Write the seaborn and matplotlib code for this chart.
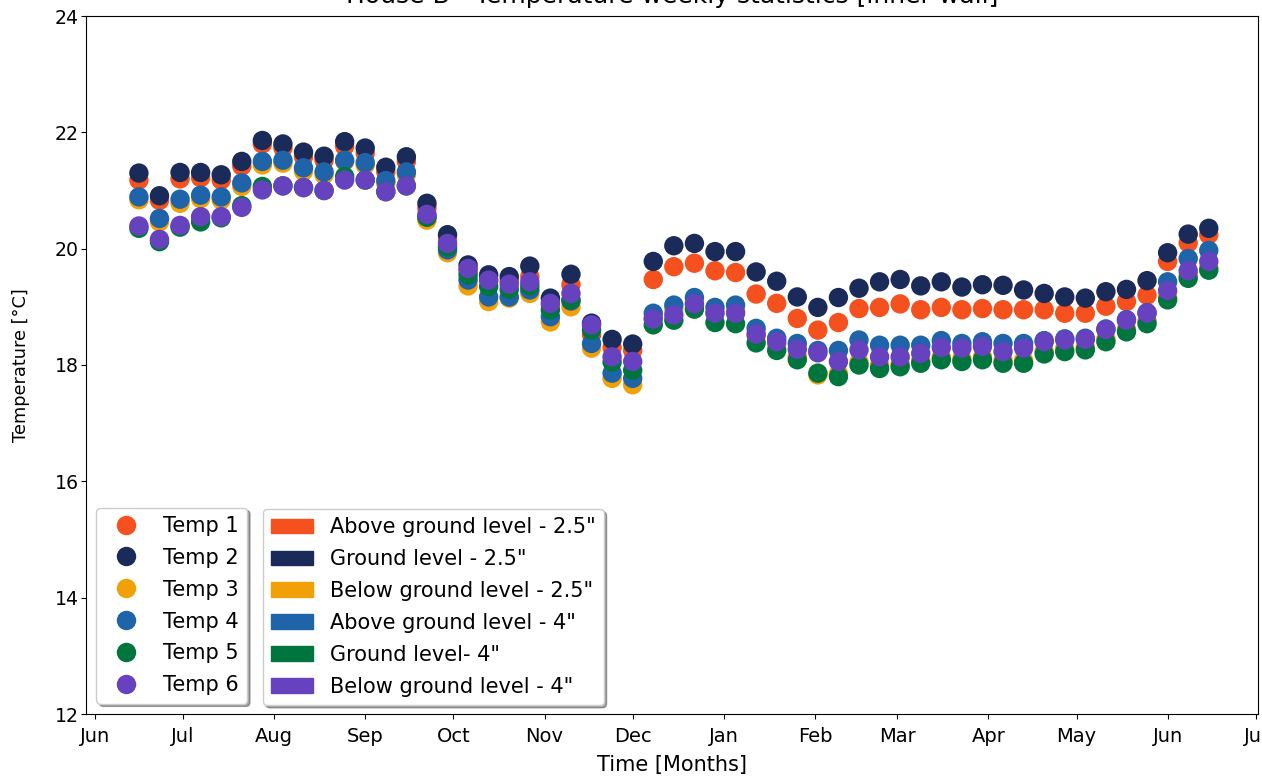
import matplotlib
matplotlib.use("Agg")
import matplotlib.pyplot as plt
import matplotlib.dates as mdates
from matplotlib.lines import Line2D
from matplotlib.patches import Patch
import numpy as np
import pandas as pd
import seaborn as sns

# ---------------- data ----------------
dates = pd.date_range("2021-06-16", periods=53, freq="7D")

temp1 = [21.18, 20.83, 21.20, 21.22, 21.18, 21.42, 21.80, 21.73, 21.58, 21.52, 21.76, 21.64, 21.32, 21.50,
         20.70, 20.15, 19.62, 19.45, 19.45, 19.52, 19.05, 19.38, 18.52, 18.30, 18.25, 19.47, 19.69, 19.75,
         19.62, 19.59, 19.22, 19.06, 18.80, 18.60, 18.73, 18.97, 18.99, 19.05, 18.95, 18.99, 18.95, 18.97,
         18.95, 18.95, 18.95, 18.89, 18.89, 19.01, 19.09, 19.20, 19.78, 20.10, 20.24]
temp2 = [21.30, 20.91, 21.31, 21.31, 21.27, 21.50, 21.86, 21.80, 21.66, 21.59, 21.84, 21.73, 21.40, 21.58,
         20.78, 20.24, 19.72, 19.55, 19.52, 19.70, 19.15, 19.56, 18.72, 18.44, 18.36, 19.78, 20.05, 20.09,
         19.95, 19.95, 19.60, 19.44, 19.17, 18.99, 19.16, 19.32, 19.43, 19.47, 19.36, 19.43, 19.34, 19.38,
         19.37, 19.29, 19.23, 19.17, 19.15, 19.26, 19.30, 19.45, 19.93, 20.25, 20.35]
temp3 = [20.84, 20.46, 20.78, 20.86, 20.84, 21.07, 21.44, 21.47, 21.33, 21.27, 21.50, 21.44, 21.12, 21.27,
         20.49, 19.93, 19.36, 19.09, 19.15, 19.23, 18.74, 19.00, 18.29, 17.77, 17.66, 18.80, 18.95, 19.05,
         18.90, 18.93, 18.50, 18.35, 18.15, 17.83, 17.85, 18.05, 18.00, 18.02, 18.08, 18.14, 18.11, 18.14,
         18.08, 18.08, 18.24, 18.28, 18.31, 18.45, 18.62, 18.76, 19.17, 19.54, 19.68]
temp4 = [20.89, 20.52, 20.85, 20.92, 20.89, 21.13, 21.50, 21.52, 21.39, 21.32, 21.52, 21.48, 21.17, 21.32,
         20.55, 19.98, 19.46, 19.17, 19.17, 19.29, 18.83, 19.10, 18.37, 17.86, 17.77, 18.89, 19.03, 19.16,
         18.99, 19.03, 18.63, 18.46, 18.37, 18.25, 18.25, 18.43, 18.34, 18.34, 18.34, 18.42, 18.37, 18.40,
         18.37, 18.37, 18.42, 18.45, 18.46, 18.62, 18.78, 18.90, 19.43, 19.83, 19.97]
temp5 = [20.35, 20.12, 20.37, 20.46, 20.53, 20.74, 21.07, 21.08, 21.05, 21.00, 21.24, 21.18, 20.98, 21.08,
         20.54, 20.03, 19.55, 19.35, 19.30, 19.36, 18.95, 19.12, 18.60, 18.05, 17.91, 18.69, 18.77, 18.96,
         18.73, 18.71, 18.38, 18.25, 18.09, 17.86, 17.80, 18.00, 17.94, 17.97, 18.03, 18.09, 18.06, 18.09,
         18.03, 18.03, 18.19, 18.23, 18.26, 18.40, 18.57, 18.71, 19.12, 19.49, 19.63]
temp6 = [20.39, 20.16, 20.40, 20.55, 20.55, 20.71, 21.01, 21.08, 21.05, 21.00, 21.18, 21.18, 20.98, 21.08,
         20.59, 20.09, 19.66, 19.46, 19.39, 19.43, 19.06, 19.23, 18.69, 18.14, 18.06, 18.79, 18.86, 19.05,
         18.89, 18.89, 18.53, 18.40, 18.27, 18.21, 18.06, 18.26, 18.14, 18.14, 18.20, 18.30, 18.29, 18.32,
         18.23, 18.29, 18.40, 18.43, 18.44, 18.61, 18.77, 18.89, 19.28, 19.62, 19.78]

series_names = ["Temp 1", "Temp 2", "Temp 3", "Temp 4", "Temp 5", "Temp 6"]
location_labels = ['Above ground level - 2.5"', 'Ground level - 2.5"', 'Below ground level - 2.5"',
                   'Above ground level - 4"', 'Ground level- 4"', 'Below ground level - 4"']
colors = ["#F4511E", "#1A2B5A", "#F2A007", "#1F64A8", "#00763E", "#6642BE"]

all_values = [temp1, temp2, temp3, temp4, temp5, temp6]
df = pd.concat([pd.DataFrame({"Date": dates, "Temperature": v, "Sensor": n})
                for n, v in zip(series_names, all_values)], ignore_index=True)

# ---------------- plot ----------------
plt.rcParams["font.size"] = 11.3
fig = plt.figure(figsize=(12.62, 7.80), dpi=100)
ax = fig.add_axes([86 / 1262, 1 - 714 / 780, (1258 - 86) / 1262, (714 - 16) / 780])

palette = dict(zip(series_names, colors))
sns.scatterplot(data=df, x="Date", y="Temperature", hue="Sensor", palette=palette,
                hue_order=series_names, s=195, linewidth=0, alpha=1, ax=ax, legend=False)

ax.set_ylim(12, 24)
ax.set_yticks(np.arange(12, 25, 2))
ax.set_xlim(pd.Timestamp("2021-05-29"), pd.Timestamp("2022-07-01 18:00"))
ax.xaxis.set_major_locator(mdates.MonthLocator())
ax.xaxis.set_major_formatter(mdates.DateFormatter("%b"))
ax.tick_params(axis="x", labelsize=14, pad=5.5)
ax.tick_params(axis="y", labelsize=13.6, pad=1.5)
ax.set_xlabel("Time [Months]", fontsize=15, labelpad=7)
ax.set_ylabel("Temperature [°C]", fontsize=12.8)
ax.yaxis.set_label_coords((30 - 86) / 1172, 0.5)
ax.set_title("House B - Temperature weekly statistics [inner wall]", fontsize=18, pad=9.5)

h1 = [Line2D([0], [0], marker="o", linestyle="", markersize=14, markerfacecolor=c,
             markeredgewidth=0, color=c) for c in colors]
leg1 = ax.legend(h1, series_names, loc="lower left", fontsize=15, shadow=True,
                 fancybox=True, labelspacing=0.57)
ax.add_artist(leg1)

h2 = [Patch(facecolor=c, edgecolor=c) for c in colors]
leg2 = ax.legend(h2, location_labels, loc="lower left", fontsize=15, shadow=True,
                 fancybox=True, labelspacing=0.57, borderaxespad=0,
                 bbox_to_anchor=((263 - 86) / 1172, (714 - 705) / 698))

fig.savefig("out.png", dpi=100)
